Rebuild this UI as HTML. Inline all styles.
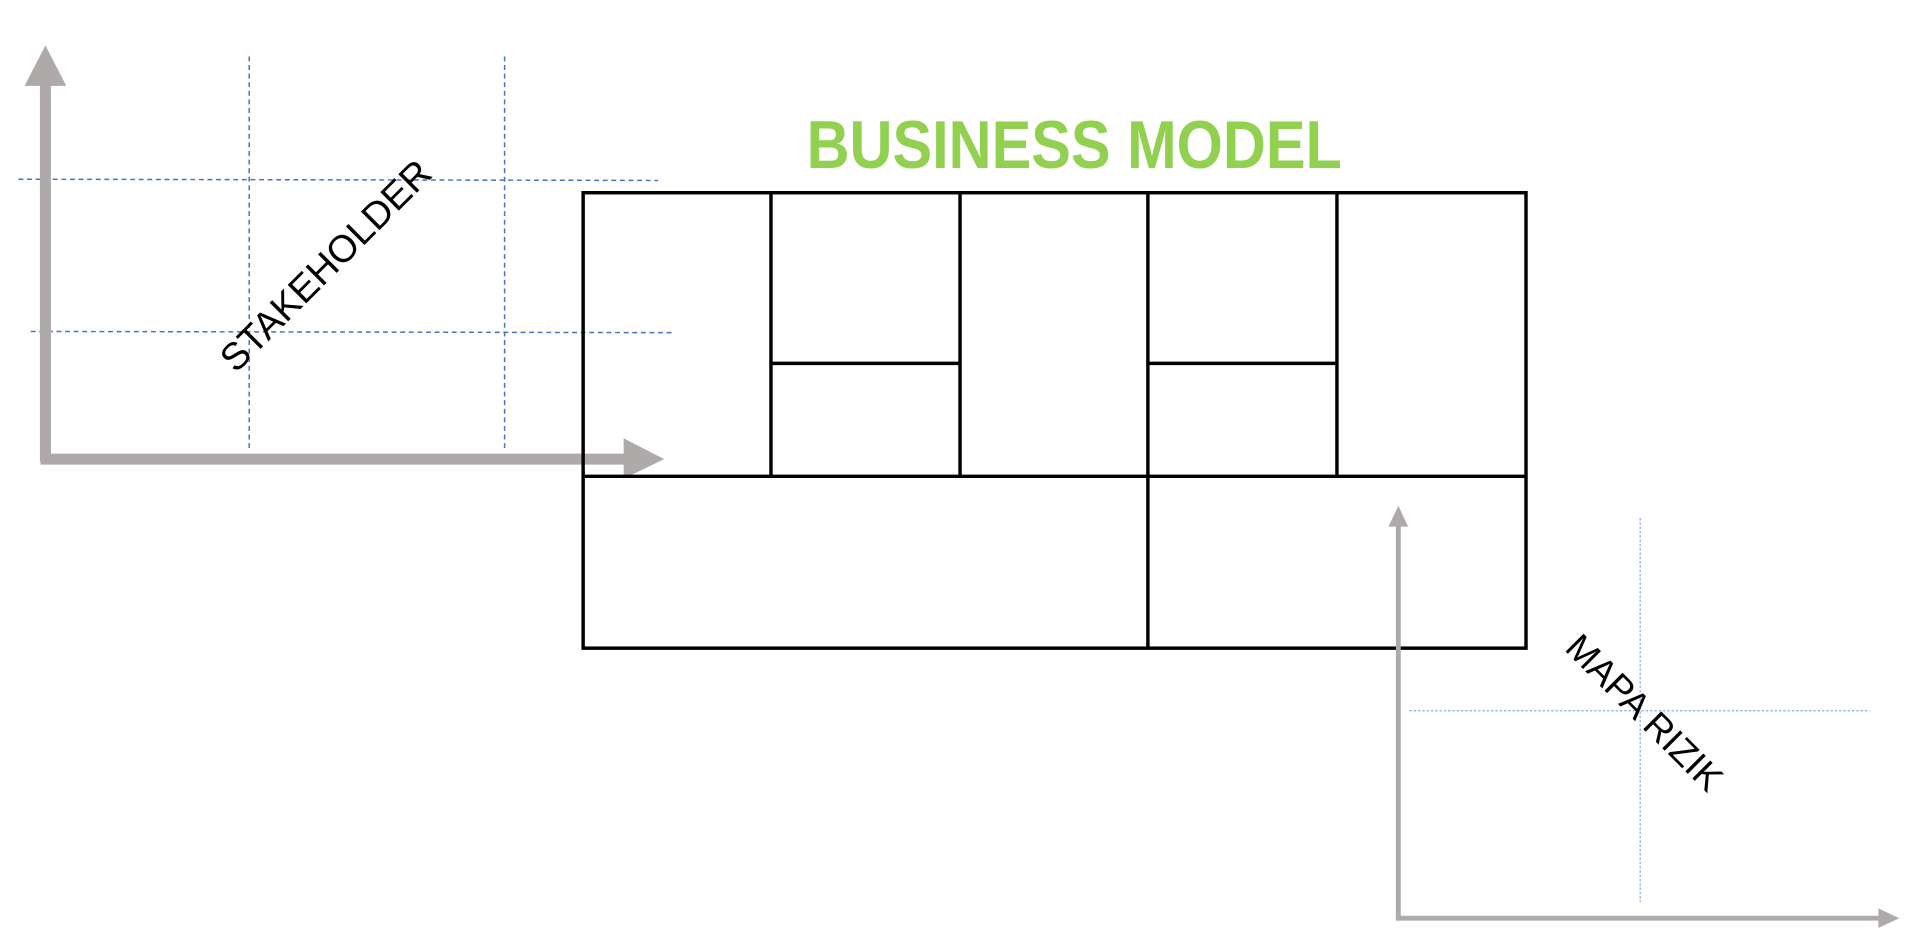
<!DOCTYPE html>
<html><head><meta charset="utf-8"><style>html,body{margin:0;padding:0;background:#fff;}svg{display:block}</style></head>
<body>
<svg width="1925" height="944" viewBox="0 0 1568 769" preserveAspectRatio="none" xmlns="http://www.w3.org/2000/svg">
<rect width="1568" height="769" fill="#fff"/>
<g stroke="#4472c4" stroke-width="1.2" stroke-dasharray="4,3" fill="none">
<line x1="203" y1="46" x2="203" y2="365"/>
<line x1="411" y1="46" x2="411" y2="365"/>
<line x1="15" y1="146" x2="536" y2="147"/>
<line x1="25" y1="270" x2="547" y2="271"/>
</g>
<line x1="37" y1="68" x2="37" y2="376" stroke="#aeaaaa" stroke-width="9"/>
<polygon points="37,37 20,70 54,70" fill="#aeaaaa"/>
<line x1="33" y1="374" x2="510" y2="374" stroke="#aeaaaa" stroke-width="9"/>
<polygon points="508,357 541,374 508,390" fill="#aeaaaa"/>
<text x="265" y="227" font-family="Liberation Sans, sans-serif" font-size="31" text-anchor="middle" transform="rotate(-45 265 216)" fill="#000">STAKEHOLDER</text>
<text x="875" y="137" font-family="Liberation Sans, sans-serif" font-weight="bold" font-size="55" fill="#92d050" text-anchor="middle" textLength="436" lengthAdjust="spacingAndGlyphs">BUSINESS MODEL</text>
<g stroke="#000" stroke-width="2.8" fill="none">
<rect x="475" y="157" width="768" height="371"/>
<line x1="628" y1="157" x2="628" y2="388"/>
<line x1="782" y1="157" x2="782" y2="388"/>
<line x1="935" y1="157" x2="935" y2="528"/>
<line x1="1089" y1="157" x2="1089" y2="388"/>
<line x1="475" y1="388" x2="1243" y2="388"/>
<line x1="628" y1="296" x2="782" y2="296"/>
<line x1="935" y1="296" x2="1089" y2="296"/>
</g>
<g stroke="#8eaadb" stroke-width="1" stroke-dasharray="2,1.5" fill="none">
<line x1="1336" y1="422" x2="1336" y2="735"/>
<line x1="1148" y1="579" x2="1523" y2="579"/>
</g>
<line x1="1139" y1="426" x2="1139" y2="750" stroke="#aeaaaa" stroke-width="4"/>
<polygon points="1139,412 1131,429 1147,429" fill="#aeaaaa"/>
<line x1="1137" y1="748" x2="1532" y2="748" stroke="#aeaaaa" stroke-width="4"/>
<polygon points="1530,740 1547,748 1530,756" fill="#aeaaaa"/>
<text x="1340" y="591" font-family="Liberation Sans, sans-serif" font-size="30" text-anchor="middle" transform="rotate(45 1340 580)" fill="#000">MAPA RIZIK</text>
</svg>
</body></html>
